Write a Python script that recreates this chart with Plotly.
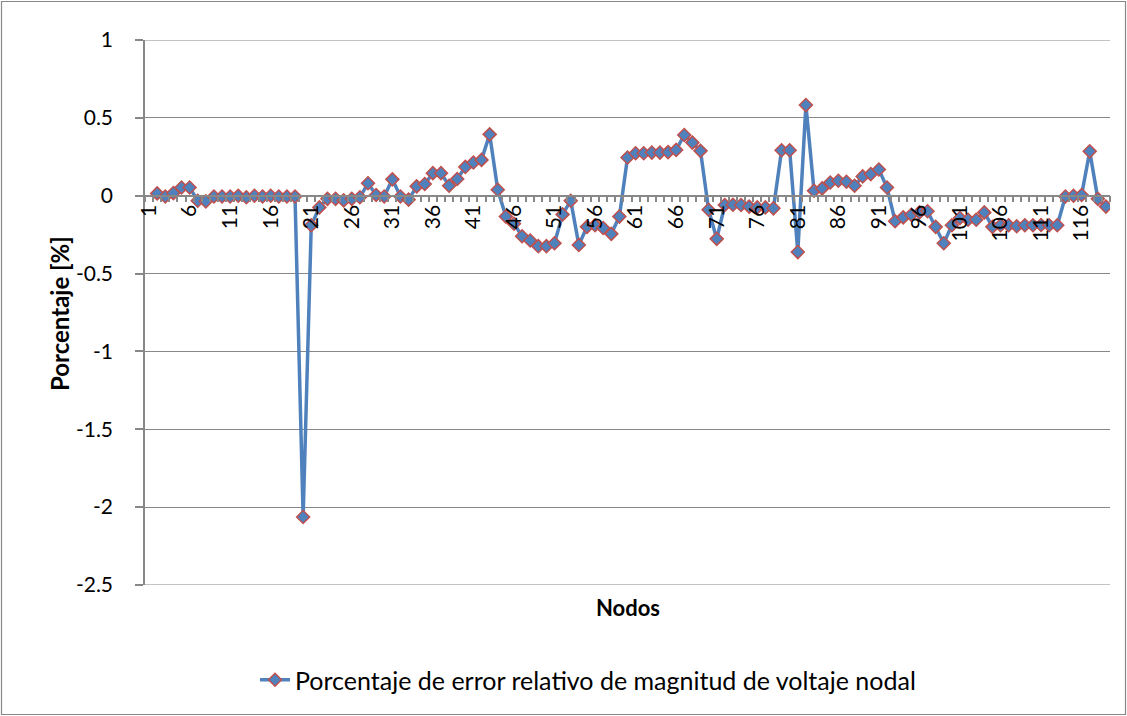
import plotly.graph_objects as go

nodes = list(range(1, 120))
error_pct = [
    None, 0.015, -0.005, 0.017, 0.053, 0.053, -0.032, -0.036, -0.005, -0.005,
    -0.005, 0.0, -0.01, 0.0, -0.005, 0.0, -0.005, -0.005, -0.005, -2.063,
    -0.19, -0.075, -0.02, -0.02, -0.03, -0.02, -0.01, 0.08, 0.005, -0.005,
    0.105, -0.005, -0.025, 0.06, 0.075, 0.145, 0.145, 0.064, 0.107, 0.185,
    0.213, 0.23, 0.394, 0.038, -0.134, -0.18, -0.26, -0.288, -0.324, -0.324,
    -0.305, -0.12, -0.032, -0.316, -0.2, -0.19, -0.207, -0.245, -0.134, 0.245,
    0.273, 0.273, 0.277, 0.277, 0.28, 0.294, 0.39, 0.341, 0.288, -0.09,
    -0.277, -0.06, -0.058, -0.06, -0.07, -0.075, -0.075, -0.081, 0.292, 0.292,
    -0.362, 0.582, 0.032, 0.047, 0.085, 0.096, 0.09, 0.064, 0.124, 0.139,
    0.168, 0.053, -0.164, -0.139, -0.122, -0.107, -0.1, -0.2, -0.305, -0.19,
    -0.143, -0.154, -0.154, -0.107, -0.2, -0.19, -0.19, -0.196, -0.19, -0.19,
    -0.188, -0.19, -0.19, -0.005, 0.0, 0.005, 0.285, -0.02, -0.07,
]
x_tick_vals = list(range(1, 120, 5))
x_tick_text = [str(v) for v in x_tick_vals]
y_tick_vals = [1, 0.5, 0, -0.5, -1, -1.5, -2, -2.5]
y_tick_text = ["1", "0.5", "0", "-0.5", "-1", "-1.5", "-2", "-2.5"]

series_name = "Porcentaje de error relativo de magnitud de voltaje nodal"

FONT = "Lato, 'Liberation Sans', sans-serif"
GRAY = "#888888"

W, H = 1127, 716
L, R, T, B = 145, 17, 40, 131
pw = W - L - R
ph = H - T - B

def px_x(p):
    return (p - L) / pw

def px_y(p):
    return (H - B - p) / ph

fig = go.Figure()
fig.add_trace(go.Scatter(
    x=nodes, y=error_pct, mode="lines+markers", name=series_name,
    line=dict(color="#4F81BD", width=3.5),
    marker=dict(symbol="diamond", size=10, color="#4F81BD",
                line=dict(color="#C0504D", width=1.5)),
))

edge_lines = [
    dict(type="line", xref="paper", yref="y", x0=0, x1=1, y0=v, y1=v,
         line=dict(color=GRAY, width=1.2), layer="below")
    for v in (y_tick_vals[0], y_tick_vals[-1])
]

fig.update_layout(
    width=W, height=H,
    margin=dict(l=L, r=R, t=T, b=B, pad=0),
    paper_bgcolor="white", plot_bgcolor="white",
    font=dict(family=FONT, size=21, color="black"),
    showlegend=True,
    legend=dict(orientation="h", x=px_x(588), xanchor="center",
                y=px_y(680), yanchor="middle", font=dict(size=25, family=FONT),
                bgcolor="rgba(0,0,0,0)"),
    xaxis=dict(
        range=[0.5, 119.5], tickmode="array", tickvals=x_tick_vals,
        ticktext=x_tick_text, tickangle=-90, showgrid=False, zeroline=False,
        showline=True, linecolor=GRAY, linewidth=1.5,
        anchor="free", position=2.5 / 3.5,
        ticks="outside", ticklen=0, tickfont=dict(size=21, family=FONT),
        minor=dict(tickmode="linear", tick0=0.5, dtick=1, ticks="outside",
                   ticklen=6, tickcolor=GRAY, tickwidth=1.5, showgrid=False),
    ),
    yaxis=dict(
        range=[-2.5, 1], tickmode="array", tickvals=y_tick_vals,
        ticktext=y_tick_text, showgrid=True, gridcolor=GRAY, gridwidth=1.2,
        zeroline=False, showline=True, linecolor=GRAY, linewidth=1.5,
        ticks="outside", ticklen=8, tickcolor=GRAY, tickwidth=1.5,
        ticklabelstandoff=18,
        tickfont=dict(size=21, family=FONT), domain=[0, 1],
    ),
    annotations=[
        dict(text="<b>Porcentaje [%]</b>", xref="paper", yref="paper",
             x=px_x(60), y=px_y(314), textangle=-90, showarrow=False,
             font=dict(size=24, family=FONT), xanchor="center", yanchor="middle"),
        dict(text="<b>Nodos</b>", xref="paper", yref="paper",
             x=px_x(628), y=px_y(607), showarrow=False,
             font=dict(size=22, family=FONT), xanchor="center", yanchor="middle"),
    ],
    shapes=[
        dict(type="rect", xref="paper", yref="paper",
             x0=px_x(1.5), x1=px_x(1125.5), y0=px_y(714.5), y1=px_y(1.5),
             line=dict(color=GRAY, width=1.2), fillcolor="rgba(0,0,0,0)"),
    ] + edge_lines,
)

fig.write_html("out.html", config={"displayModeBar": False},
               post_script="document.body.style.margin='0';")
